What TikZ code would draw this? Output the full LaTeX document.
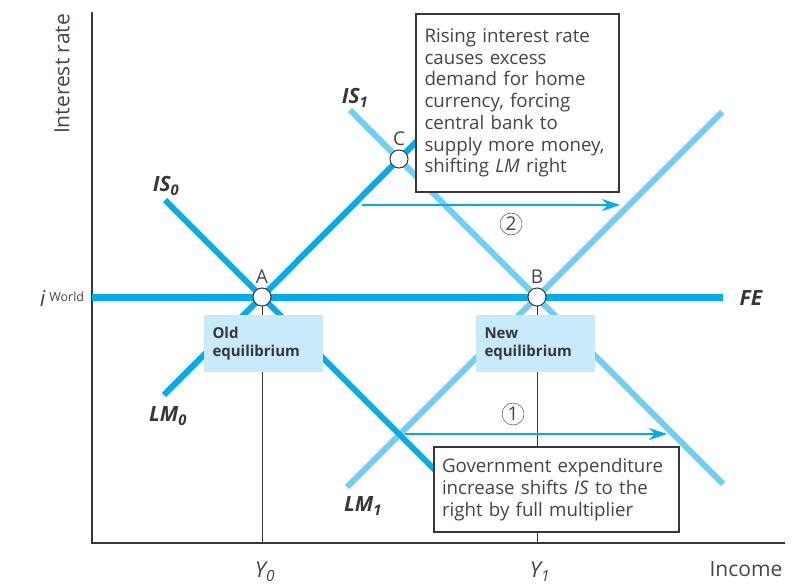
\documentclass[tikz,border=0pt]{standalone}
\usepackage{fontspec}
\setmainfont{Open Sans}
\usetikzlibrary{arrows.meta,positioning}
\definecolor{fecyan}{RGB}{0,172,236}
\definecolor{ltcyan}{RGB}{112,206,245}
\definecolor{eqfill}{RGB}{200,234,250}
\definecolor{axgray}{RGB}{55,55,55}
\definecolor{txgray}{RGB}{75,65,75}

\begin{document}
\begin{tikzpicture}[x=1pt,y=-1pt,>={Stealth[length=18pt,width=12pt]},
  oldcurve/.style={line width=6pt,fecyan},
  newcurve/.style={line width=6pt,ltcyan},
  eqpt/.style={draw=axgray,fill=white,circle,inner sep=0pt,minimum size=18pt,line width=1pt},
  eqbox/.style={fill=eqfill,minimum width=119pt,minimum height=57pt,text width=102pt,align=left,
    font=\bfseries\fontsize{15}{18}\selectfont,text=axgray},
  note/.style={draw=axgray,fill=white,line width=1.2pt,align=left,inner sep=0pt,
    font=\fontsize{18.7}{21.7}\selectfont,text=txgray},
  crvlabel/.style={font=\bfseries\itshape\fontsize{21}{21}\selectfont,text=axgray},
  ptlabel/.style={font=\fontsize{19}{19}\selectfont,text=txgray},
  axlabel/.style={font=\fontsize{21}{21}\selectfont,text=txgray},
  num/.style={draw=axgray,circle,inner sep=1pt,minimum size=22pt,font=\fontsize{19}{19}\selectfont,text=txgray}]
\useasboundingbox (0,0) rectangle (792,585);
% axes
\coordinate (o) at (92,543);
\coordinate (ytop) at (92,12);
\coordinate (xend) at (785,543);
\draw[axgray,line width=1.8pt] (ytop) -- (o) -- (xend);
\node[axlabel,rotate=90] (ylab) at (62,74) {Interest rate};
\node[axlabel] (xlab) at (746,569) {Income};
% equilibrium points
\coordinate (A) at (262,297);
\coordinate (B) at (537,297);
\coordinate (C) at (399,159);
% guides down to income
\coordinate (y0) at (262,543);
\coordinate (y1) at (537,543);
\draw[axgray,line width=0.9pt] (A) -- (y0);
\draw[axgray,line width=0.9pt] (B) -- (y1);
\node[axlabel,font=\itshape\fontsize{22}{22}\selectfont] (y0lab) at (265,572) {Y\textsubscript{0}};
\node[axlabel,font=\itshape\fontsize{22}{22}\selectfont] (y1lab) at (540,572) {Y\textsubscript{1}};
% curves
\coordinate (is0a) at (165,200);
\coordinate (is0b) at (440,475);
\coordinate (lm0a) at (164,395);
\coordinate (lm0b) at (425,133);
\coordinate (is1a) at (350,110);
\coordinate (is1b) at (723,484);
\coordinate (lm1a) at (347,487);
\coordinate (lm1b) at (722,112);
\draw[newcurve] (is1a) -- (is1b);
\draw[newcurve] (lm1a) -- (lm1b);
\draw[oldcurve] (is0a) -- (is0b);
\draw[oldcurve] (lm0a) -- (lm0b);
\coordinate (fea) at (92,297);
\coordinate (feb) at (723,297);
\draw[fecyan,line width=7pt] (fea) -- (feb);
\node[crvlabel] (fe) at (751,298) {FE};
\node[crvlabel] (is0) at (166,186) {IS\textsubscript{0}};
\node[crvlabel] (is1) at (355,98) {IS\textsubscript{1}};
\node[crvlabel] (lm0) at (168,416) {LM\textsubscript{0}};
\node[crvlabel] (lm1) at (363,506) {LM\textsubscript{1}};
\node[axlabel,font=\fontsize{22}{22}\selectfont] (iw) at (62,298) {\textit{i}\,\raisebox{0.4ex}{\fontsize{12.5}{12.5}\selectfont World}};
% shift arrows
\coordinate (s2a) at (362,205);
\coordinate (s2b) at (620,205);
\coordinate (s1a) at (405,434);
\coordinate (s1b) at (667,434);
\draw[->,fecyan,line width=2pt] (s2a) -- (s2b);
\draw[->,fecyan,line width=2pt] (s1a) -- (s1b);
\node[num] (n2) at (511,224) {2};
\node[num] (n1) at (513,414) {1};
% boxes
\node[eqbox] (old) at (263.5,343.5) {Old\\equilibrium};
\node[eqbox] (new) at (535.5,343.5) {New\\equilibrium};
\node[note,minimum width=203pt,minimum height=178pt,text width=186pt] (rise) at (517.5,103)
  {Rising interest rate\\causes excess\\demand for home\\currency, forcing\\central bank to\\supply more money,\\shifting \textit{LM} right};
\node[note,minimum width=245pt,minimum height=85pt,text width=229pt] (gov) at (556.5,489.5)
  {Government expenditure\\increase shifts \textit{IS} to the\\right by full multiplier};
% points on top
\node[eqpt] (pA) at (A) {};
\node[eqpt] (pB) at (B) {};
\node[eqpt] (pC) at (C) {};
\node[ptlabel,above=0pt of pA] (la) {A};
\node[ptlabel,above=0pt of pB] (lb) {B};
\node[ptlabel,above=0pt of pC] (lc) {C};
\end{tikzpicture}
\end{document}
